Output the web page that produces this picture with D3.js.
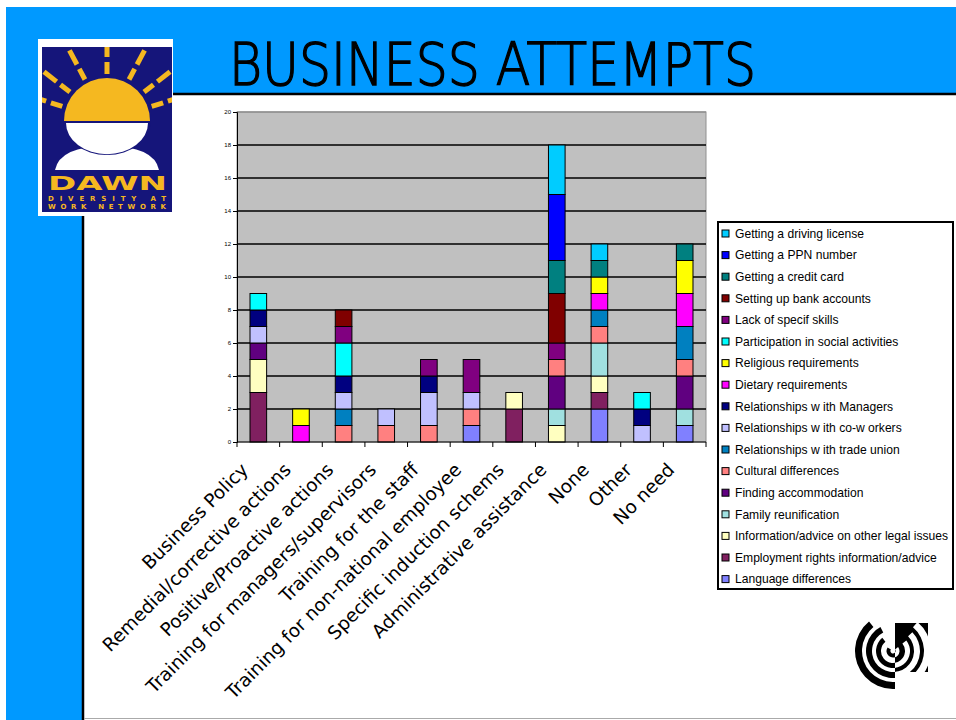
<!DOCTYPE html>
<meta charset="utf-8">
<style>
body { margin: 0; background: #fff; }
</style>
<body>
<script src="https://d3js.org/d3.v7.min.js"></script>
<script>
var width = 956,
    height = 720;

// categories on the x axis
var categories = ["Business Policy", "Remedial/corrective actions", "Positive/Proactive actions",
  "Training for managers/supervisors", "Training for the staff", "Training for non-national employee",
  "Specific induction schems", "Administrative assistance", "None", "Other", "No need"];

// series, bottom of the stack first
var seriesNames = ["Language differences", "Employment rights information/advice",
  "Information/advice on other legal issues", "Family reunification", "Finding accommodation",
  "Cultural differences", "Relationships w ith trade union", "Relationships w ith co-w orkers",
  "Relationships w ith Managers", "Dietary requirements", "Religious requirements",
  "Participation in social activities", "Lack of specif skills", "Setting up bank accounts",
  "Getting a credit card", "Getting a PPN number", "Getting a driving license"];

var seriesColors = ["#8080ff", "#802060", "#ffffc0", "#a0e0e0", "#600080",
  "#ff8080", "#0080c0", "#c0c0ff", "#000080", "#ff00ff", "#ffff00",
  "#00ffff", "#800080", "#800000", "#008080", "#0000ff", "#00ccff"];

var language      = [0, 0, 0, 0, 0, 1, 0, 0, 2, 0, 1];
var employment    = [3, 0, 0, 0, 0, 0, 2, 0, 1, 0, 0];
var legalAdvice   = [2, 0, 0, 0, 0, 0, 1, 1, 1, 0, 0];
var family        = [0, 0, 0, 0, 0, 0, 0, 1, 2, 0, 1];
var accommodation = [1, 0, 0, 0, 0, 0, 0, 2, 0, 0, 2];
var cultural      = [0, 0, 1, 1, 1, 1, 0, 1, 1, 0, 1];
var tradeUnion    = [0, 0, 1, 0, 0, 0, 0, 0, 1, 0, 2];
var coWorkers     = [1, 0, 1, 1, 2, 1, 0, 0, 0, 1, 0];
var managers      = [1, 0, 1, 0, 1, 0, 0, 0, 0, 1, 0];
var dietary       = [0, 1, 0, 0, 0, 0, 0, 0, 1, 0, 2];
var religious     = [0, 1, 0, 0, 0, 0, 0, 0, 1, 0, 2];
var social        = [1, 0, 2, 0, 0, 0, 0, 0, 0, 1, 0];
var skills        = [0, 0, 1, 0, 1, 2, 0, 1, 0, 0, 0];
var bankAccounts  = [0, 0, 1, 0, 0, 0, 0, 3, 0, 0, 0];
var creditCard    = [0, 0, 0, 0, 0, 0, 0, 2, 1, 0, 1];
var ppnNumber     = [0, 0, 0, 0, 0, 0, 0, 4, 0, 0, 0];
var drivingLic    = [0, 0, 0, 0, 0, 0, 0, 3, 1, 0, 0];

var seriesValues = [language, employment, legalAdvice, family, accommodation, cultural,
  tradeUnion, coWorkers, managers, dietary, religious, social, skills, bankAccounts,
  creditCard, ppnNumber, drivingLic];

var yTicks = [0, 2, 4, 6, 8, 10, 12, 14, 16, 18, 20];

var rows = categories.map(function(c, i) {
  var r = {category: c};
  seriesNames.forEach(function(s, j) { r[s] = seriesValues[j][i]; });
  return r;
});

var svg = d3.select("body").append("svg")
    .attr("width", width)
    .attr("height", height)
    .style("display", "block");
var defs = svg.append("defs");

// slide frame
svg.append("rect").attr("width", width).attr("height", height).attr("fill", "#fff");
svg.append("rect").attr("x", 6).attr("y", 7).attr("width", width - 6).attr("height", 87).attr("fill", "#0099ff");
svg.append("rect").attr("x", 6).attr("y", 7).attr("width", 77).attr("height", height - 7).attr("fill", "#0099ff");
svg.append("line").attr("x1", 82).attr("x2", width).attr("y1", 94).attr("y2", 94)
    .attr("stroke", "#000").attr("stroke-width", 2.5);
svg.append("line").attr("x1", 83).attr("x2", 83).attr("y1", 94).attr("y2", height)
    .attr("stroke", "#000").attr("stroke-width", 2.5);
svg.append("line").attr("x1", 84).attr("x2", width).attr("y1", 718.5).attr("y2", 718.5)
    .attr("stroke", "#aaa").attr("stroke-width", 1);

svg.append("text")
    .attr("x", 229).attr("y", 85)
    .attr("font-family", "DejaVu Sans")
    .attr("font-weight", 200)
    .attr("font-size", 58)
    .attr("stroke", "#000")
    .attr("stroke-width", 1.4)
    .attr("textLength", 527)
    .attr("lengthAdjust", "spacingAndGlyphs")
    .text("BUSINESS ATTEMPTS");

// chart
var x = d3.scaleBand().domain(categories).range([237, 706]).paddingInner(0.61).paddingOuter(0.305);
var y = d3.scaleLinear().domain([0, 20]).range([442, 112]);

svg.append("rect")
    .attr("x", 237).attr("y", y(20))
    .attr("width", 706 - 237).attr("height", y(0) - y(20))
    .attr("fill", "#c0c0c0")
    .attr("stroke", "#909090");

svg.append("g").selectAll("line").data(yTicks.slice(1)).join("line")
    .attr("x1", 237).attr("x2", 706)
    .attr("y1", function(d) { return y(d); }).attr("y2", function(d) { return y(d); })
    .attr("stroke", function(d) { return d == 20 ? "#909090" : "#000"; })
    .attr("stroke-width", 1.3);

var stack = d3.stack().keys(seriesNames)(rows);

svg.append("g").selectAll("g").data(stack).join("g")
    .attr("fill", function(d, i) { return seriesColors[i]; })
  .selectAll("rect").data(function(d) { return d.filter(function(p) { return p[1] > p[0]; }); }).join("rect")
    .attr("x", function(d) { return x(d.data.category); })
    .attr("y", function(d) { return y(d[1]); })
    .attr("width", x.bandwidth())
    .attr("height", function(d) { return y(d[0]) - y(d[1]); })
    .attr("stroke", "#000")
    .attr("stroke-width", 1);

var yAxis = svg.append("g")
    .attr("transform", "translate(237,0)")
    .call(d3.axisLeft(y).tickValues(yTicks).tickSize(4).tickPadding(2));
yAxis.selectAll("text").attr("font-size", 6).attr("font-family", "Liberation Sans").attr("fill", "#000");
yAxis.select(".domain").attr("stroke", "#000");

// category ticks at band boundaries
var bounds = categories.map(function(c) { return x(c) - x.step() * x.paddingInner() / 2; });
bounds.push(706);
svg.append("g").selectAll("line").data(bounds).join("line")
    .attr("x1", function(d) { return d; }).attr("x2", function(d) { return d; })
    .attr("y1", 442).attr("y2", 447)
    .attr("stroke", "#000");
svg.append("line").attr("x1", 237).attr("x2", 706).attr("y1", 442).attr("y2", 442).attr("stroke", "#000");

svg.append("g").selectAll("text").data(categories).join("text")
    .attr("transform", function(d) {
      return "translate(" + (x(d) + x.bandwidth() / 2 - 9) + ",471)rotate(-45)";
    })
    .attr("text-anchor", "end")
    .attr("font-family", "DejaVu Sans")
    .attr("font-size", 18.5)
    .text(function(d) { return d; });

// legend
var legend = svg.append("g");
legend.append("rect")
    .attr("x", 718).attr("y", 222).attr("width", 235).attr("height", 367)
    .attr("fill", "#fff").attr("stroke", "#000").attr("stroke-width", 2);

var legendItems = seriesNames.slice().reverse();
var li = legend.selectAll("g").data(legendItems).join("g")
    .attr("transform", function(d, i) { return "translate(0," + (233.5 + i * 21.6) + ")"; });
li.append("rect")
    .attr("x", 722).attr("y", -3.5).attr("width", 7).attr("height", 7)
    .attr("fill", function(d) { return seriesColors[seriesNames.indexOf(d)]; })
    .attr("stroke", "#000");
li.append("text")
    .attr("x", 735).attr("dy", "0.35em")
    .attr("font-family", "Liberation Sans")
    .attr("font-size", 12.1)
    .text(function(d) { return d; });

// DAWN logo
var navy = "#15157a", gold = "#f5b820";
defs.append("clipPath").attr("id", "logoClip")
  .append("rect").attr("x", 42).attr("y", 47).attr("width", 130).attr("height", 165);
var logo = svg.append("g");
logo.append("rect").attr("x", 38).attr("y", 39).attr("width", 135).attr("height", 177).attr("fill", "#fff");
logo.append("rect").attr("x", 42).attr("y", 47).attr("width", 130).attr("height", 165).attr("fill", navy);
var cx = 107, cy = 121;
var rays = logo.append("g").attr("clip-path", "url(#logoClip)");
[-72, -52, -28, 0, 28, 52, 72].forEach(function(a) {
  var t = a * Math.PI / 180;
  [[47, 59], [64, 80]].forEach(function(r) {
    rays.append("line")
        .attr("x1", cx + r[0] * Math.sin(t)).attr("y1", cy - r[0] * Math.cos(t))
        .attr("x2", cx + r[1] * Math.sin(t)).attr("y2", cy - r[1] * Math.cos(t))
        .attr("stroke", gold).attr("stroke-width", 5);
  });
});
// shoulders, then the head outlined in navy, then the sun on top
logo.append("path")
    .attr("d", "M55,170 Q60,146 107,146 Q154,146 159,170 Z")
    .attr("fill", "#fff");
logo.append("ellipse").attr("cx", cx).attr("cy", cy).attr("rx", 44).attr("ry", 34).attr("fill", navy);
logo.append("path")
    .attr("transform", "translate(" + cx + "," + (cy + 2) + ") scale(1,0.76)")
    .attr("d", d3.arc()({innerRadius: 0, outerRadius: 41, startAngle: Math.PI / 2, endAngle: 3 * Math.PI / 2}))
    .attr("fill", "#fff");
logo.append("path")
    .attr("transform", "translate(" + cx + "," + cy + ")")
    .attr("d", d3.arc()({innerRadius: 0, outerRadius: 43, startAngle: -Math.PI / 2, endAngle: Math.PI / 2}))
    .attr("fill", gold);
logo.append("text")
    .attr("x", 48).attr("y", 190)
    .attr("font-family", "DejaVu Sans").attr("font-weight", "bold").attr("font-size", 19)
    .attr("textLength", 119).attr("lengthAdjust", "spacingAndGlyphs")
    .attr("fill", gold).text("DAWN");
logo.append("text")
    .attr("x", 48).attr("y", 201)
    .attr("font-family", "DejaVu Sans").attr("font-weight", "bold").attr("font-size", 7)
    .attr("textLength", 118).attr("lengthAdjust", "spacing")
    .attr("fill", gold).text("DIVERSITY   AT");
logo.append("text")
    .attr("x", 48).attr("y", 209)
    .attr("font-family", "DejaVu Sans").attr("font-weight", "bold").attr("font-size", 7)
    .attr("textLength", 118).attr("lengthAdjust", "spacing")
    .attr("fill", gold).text("WORK  NETWORK");

// round logo bottom right
defs.append("clipPath").attr("id", "leftHalf")
  .append("rect").attr("x", 840).attr("y", 600).attr("width", 55).attr("height", 100);
defs.append("clipPath").attr("id", "rightHalf")
  .append("rect").attr("x", 895).attr("y", 600).attr("width", 60).attr("height", 100);
var mark = svg.append("g");
mark.append("rect").attr("x", 895).attr("y", 623).attr("width", 33).attr("height", 49).attr("fill", "#000");
var rings = [[2.5, 6.5, 0.9, 5.3], [12, 17, 0.9, 5.6], [21, 27, 0.8, 5.8], [31, 38, 0.7, 5.6]];
["leftHalf", "rightHalf"].forEach(function(side, k) {
  var g = mark.append("g").attr("clip-path", "url(#" + side + ")")
    .append("g").attr("transform", "translate(893,651)");
  rings.forEach(function(r) {
    g.append("path")
        .attr("d", d3.arc()({innerRadius: r[0], outerRadius: r[1], startAngle: r[2], endAngle: r[3]}))
        .attr("fill", k == 0 ? "#000" : "#fff");
  });
});
</script>
</html>
